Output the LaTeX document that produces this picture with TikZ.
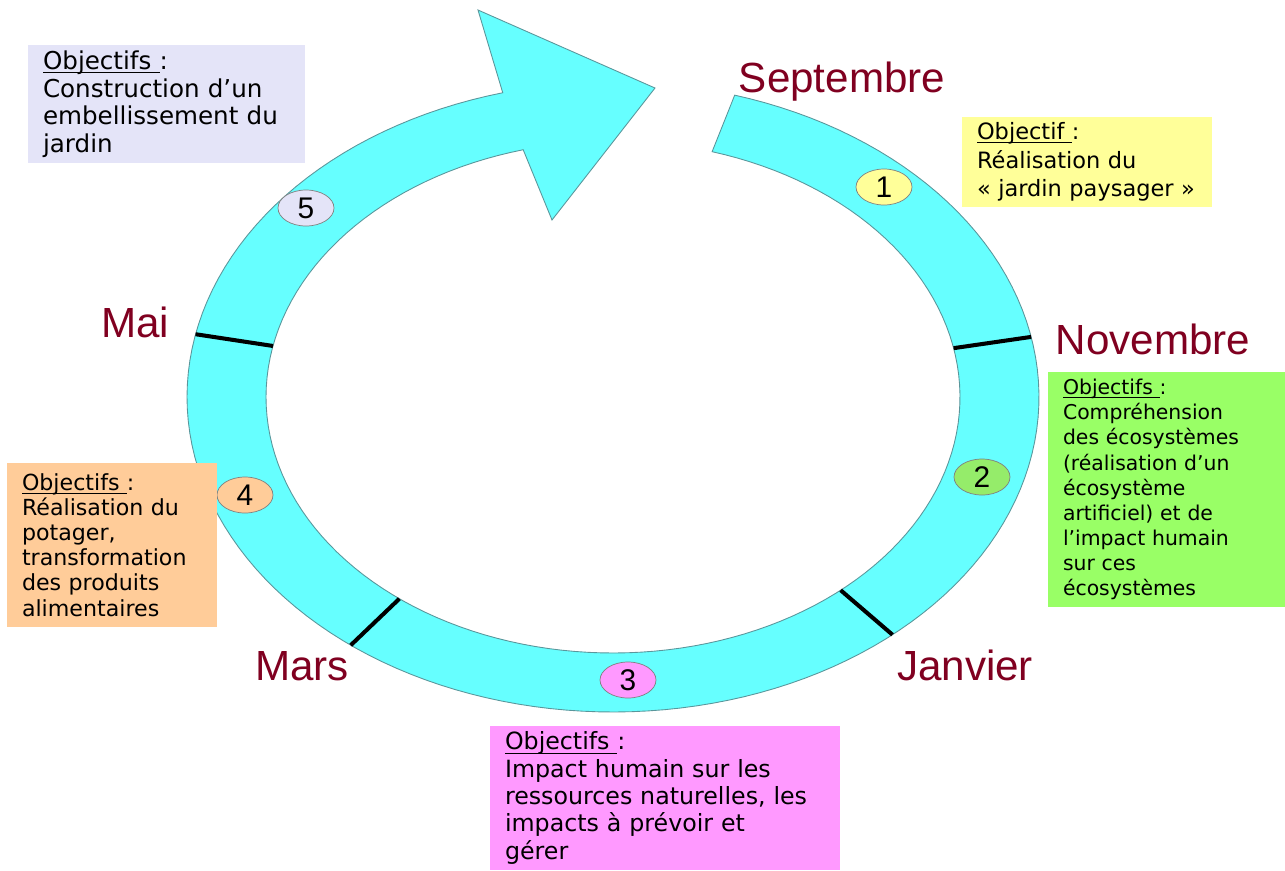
\documentclass[tikz,border=0pt]{standalone}
\usepackage{amsmath}
\usepackage{fontspec}
\setmainfont{DejaVu Sans}
\newfontfamily\arialfont{Liberation Sans}
\usepackage{tikz}
\usetikzlibrary{shapes.geometric}

\definecolor{ringcyan}{RGB}{102,255,255}
\definecolor{ringedge}{RGB}{90,150,155}
\definecolor{monthred}{RGB}{128,0,32}
\definecolor{lavbox}{RGB}{228,228,248}
\definecolor{yelbox}{RGB}{255,255,153}
\definecolor{grebox}{RGB}{153,255,102}
\definecolor{peabox}{RGB}{255,204,153}
\definecolor{pinbox}{RGB}{255,153,255}

\newcommand{\objtitle}[1]{\underline{\smash[b]{#1~}}:}

\begin{document}
\begin{tikzpicture}[
		x=0.02cm, y=-0.02cm,
		goal/.style={rectangle, inner xsep=0.3cm, inner ysep=0pt, align=left},
		num/.style={ellipse, draw=gray, minimum width=1.12cm, minimum height=0.72cm, inner sep=0pt, font=\arialfont\fontsize{17}{17}\selectfont},
		month/.style={anchor=base, text=monthred, font=\arialfont\fontsize{24}{24}\selectfont},
		tick/.style={line width=2.3pt}
	]
  \useasboundingbox (0,0) rectangle (1285,870);
  % the ring with its arrow head
  \filldraw[fill=ringcyan, draw=ringedge, line width=0.5pt]
    plot[domain=105:433.4, samples=150] ({613+426*cos(\x)}, {397-315*sin(\x)})
    -- plot[domain=433.4:105, samples=150] ({613+347*cos(\x)}, {397-256*sin(\x)})
    -- (552,220) -- (655,88) -- (478,10) -- cycle;
  \draw[tick] ({613+426*cos(11)}, {397-315*sin(11)}) -- ({613+347*cos(11)}, {397-256*sin(11)});
  \draw[tick] ({613+426*cos(-49)}, {397-315*sin(-49)}) -- ({613+347*cos(-49)}, {397-256*sin(-49)});
  \draw[tick] ({613+426*cos(232)}, {397-315*sin(232)}) -- ({613+347*cos(232)}, {397-256*sin(232)});
  \draw[tick] ({613+426*cos(168.5)}, {397-315*sin(168.5)}) -- ({613+347*cos(168.5)}, {397-256*sin(168.5)});

  \node (sept) [month] at (842,92) {Septembre};
  \node (nov) [month] at (1153,354) {Novembre};
  \node (janv) [month] at (965,680) {Janvier};
  \node (mars) [month] at (302,680) {Mars};
  \node (mai) [month] at (135,337) {Mai};

  \node (num_1) [num, fill=yelbox] at (884,187) {1};
  \node (num_2) [num, fill=grebox!85!gray] at (982,477) {2};
  \node (num_3) [num, fill=pinbox] at (628,680) {3};
  \node (num_4) [num, fill=peabox] at (245,495) {4};
  \node (num_5) [num, fill=lavbox] at (306,208) {5};

  \node (goal_5) [goal, fill=lavbox, minimum height=2.36cm, text width=4.94cm, font=\fontsize{14}{15.7}\selectfont] at (166.5,104)
    {\objtitle{Objectifs}\\ Construction~d’un\\ embellissement~du\\ jardin};
  \node (goal_1) [goal, fill=yelbox, minimum height=1.8cm, text width=4.4cm, font=\fontsize{12.8}{16.2}\selectfont] at (1087,162)
    {\objtitle{Objectif}\\ Réalisation~du\\ «~jardin~paysager~»};
  \node (goal_2) [goal, fill=grebox, minimum height=4.7cm, text width=4.14cm, font=\fontsize{11.6}{14.3}\selectfont] at (1166.5,489.5)
    {\objtitle{Objectifs}\\ Compréhension\\ des~écosystèmes\\ (réalisation~d’un\\ écosystème\\ artificiel)~et~de\\ l’impact~humain\\ sur~ces\\ écosystèmes};
  \node (goal_4) [goal, fill=peabox, minimum height=3.28cm, text width=3.6cm, font=\fontsize{12.6}{14.3}\selectfont] at (112,545)
    {\objtitle{Objectifs}\\ Réalisation~du\\ potager,\\ transformation\\ des~produits\\ alimentaires};
  \node (goal_3) [goal, fill=pinbox, minimum height=2.88cm, text width=6.4cm, font=\fontsize{13.5}{15.6}\selectfont] at (665,798)
    {\objtitle{Objectifs}\\ Impact~humain~sur~les\\ ressources~naturelles,~les\\ impacts~à~prévoir~et\\ gérer};
\end{tikzpicture}
\end{document}
